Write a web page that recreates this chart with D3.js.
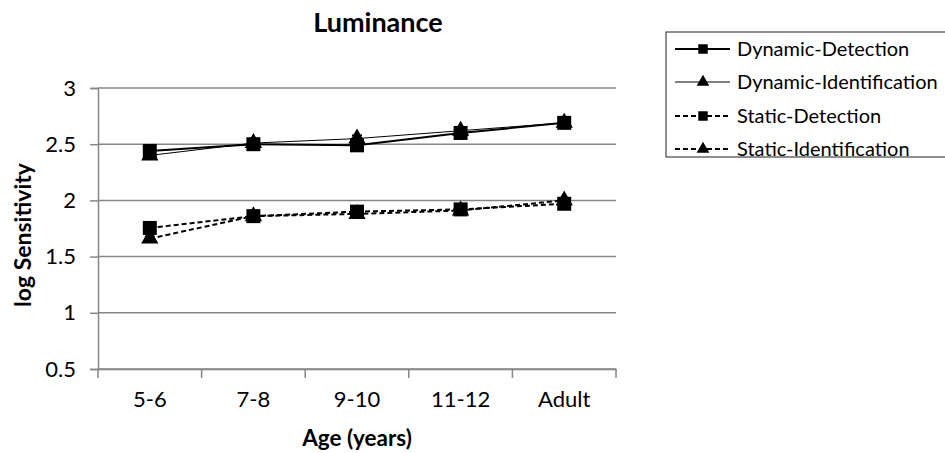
<!DOCTYPE html>
<html><head><meta charset="utf-8">
<script src="https://cdn.jsdelivr.net/npm/d3@7"></script>
<style>body{margin:0;background:#fff;} svg{display:block;}</style>
</head><body>
<svg id="c" width="945" height="453"></svg>
<script>
const categories = ["5-6","7-8","9-10","11-12","Adult"];
const dynamicDetection      = [2.44, 2.50, 2.49, 2.60, 2.69];
const dynamicIdentification = [2.40, 2.51, 2.55, 2.62, 2.69];
const staticDetection       = [1.755, 1.86, 1.90, 1.92, 1.97];
const staticIdentification  = [1.66, 1.86, 1.88, 1.91, 2.00];
const dynamicDetectionErr      = [0.02, 0.04, 0.02, 0.02, 0.01];
const dynamicIdentificationErr = [0.02, 0.03, 0.03, 0.02, 0.01];
const staticDetectionErr       = [0.02, 0.02, 0.02, 0.02, 0.02];
const staticIdentificationErr  = [0.02, 0.02, 0.02, 0.02, 0.02];
const yTicks = [0.5, 1, 1.5, 2, 2.5, 3];
const seriesNames = ["Dynamic-Detection","Dynamic-Identification","Static-Detection","Static-Identification"];

(function(){
const series = [
  {name: seriesNames[0], values: dynamicDetection, err: dynamicDetectionErr, marker: "square", dash: null, width: 2},
  {name: seriesNames[1], values: dynamicIdentification, err: dynamicIdentificationErr, marker: "triangle", dash: null, width: 1},
  {name: seriesNames[2], values: staticDetection, err: staticDetectionErr, marker: "square", dash: "5,3", width: 2},
  {name: seriesNames[3], values: staticIdentification, err: staticIdentificationErr, marker: "triangle", dash: "5,3", width: 2}
];

const svg = d3.select("#c");
const font = "Lato, 'Open Sans', sans-serif";
const mLeft = 98, mRight = 616, mTop = 88, mBottom = 369;

const x = d3.scaleBand().domain(categories).range([mLeft, mRight]);
const y = d3.scaleLinear().domain([0.5, 3]).range([mBottom, mTop]);
const gridColor = "#868686";

svg.append("g").selectAll("line").data(yTicks).join("line")
  .attr("x1", mLeft).attr("x2", mRight)
  .attr("y1", d => y(d)).attr("y2", d => y(d))
  .attr("stroke", gridColor).attr("stroke-width", 1.5);

const yAxis = svg.append("g").attr("transform", `translate(${mLeft},0)`)
  .call(d3.axisLeft(y).tickValues(yTicks).tickSize(8).tickPadding(14).tickFormat(d3.format("")));
yAxis.select(".domain").attr("stroke", gridColor).attr("stroke-width", 1.5);
yAxis.selectAll(".tick line").attr("stroke", gridColor).attr("stroke-width", 1.5);
yAxis.selectAll("text").attr("font-family", font).attr("font-size", 22).attr("fill", "#000");

const xAxis = svg.append("g").attr("transform", `translate(0,${mBottom})`)
  .call(d3.axisBottom(x).tickSize(0).tickPadding(22));
xAxis.select(".domain").attr("stroke", gridColor).attr("stroke-width", 1.5);
xAxis.selectAll("text").attr("font-family", font).attr("font-size", 22).attr("fill", "#000");
const edges = categories.map(c => x(c)).concat([mRight]);
xAxis.append("g").selectAll("line").data(edges).join("line")
  .attr("x1", d => d).attr("x2", d => d).attr("y1", 0).attr("y2", 9)
  .attr("stroke", gridColor).attr("stroke-width", 1.5);

const cx = c => x(c) + x.bandwidth()/2;

const line = d3.line().x((d,i) => cx(categories[i])).y(d => y(d));
series.forEach(s => {
  svg.append("path").datum(s.values).attr("d", line)
    .attr("fill", "none").attr("stroke", "#000")
    .attr("stroke-width", s.width)
    .attr("stroke-dasharray", s.dash);
  const g = svg.append("g");
  s.values.forEach((v, i) => {
    const xx = cx(categories[i]);
    g.append("line").attr("x1", xx).attr("x2", xx).attr("y1", y(v - s.err[i])).attr("y2", y(v + s.err[i]))
      .attr("stroke", "#000").attr("stroke-width", 1.5);
    [v - s.err[i], v + s.err[i]].forEach(e => {
      g.append("line").attr("x1", xx-5).attr("x2", xx+5).attr("y1", y(e)).attr("y2", y(e))
        .attr("stroke", "#000").attr("stroke-width", 1.5);
    });
  });
  const sym = s.marker === "square" ? d3.symbolSquare : d3.symbolTriangle;
  const size = s.marker === "square" ? 196 : 130;
  svg.append("g").selectAll("path").data(s.values).join("path")
    .attr("transform", (d,i) => `translate(${cx(categories[i])},${y(d)})`)
    .attr("d", d3.symbol().type(sym).size(size))
    .attr("fill", "#000");
});

svg.append("text").attr("x", 378).attr("y", 32).attr("text-anchor", "middle")
  .attr("font-family", font).attr("font-weight", "bold").attr("font-size", 27).text("Luminance");

svg.append("text").attr("x", 357).attr("y", 446).attr("text-anchor", "middle")
  .attr("font-family", font).attr("font-weight", "bold").attr("font-size", 22.5).text("Age (years)");
svg.append("text").attr("transform", `translate(31,235) rotate(-90)`).attr("text-anchor", "middle")
  .attr("font-family", font).attr("font-weight", "bold").attr("font-size", 23).text("log Sensitivity");

const lg = svg.append("g");
lg.append("rect").attr("x", 666).attr("y", 32).attr("width", 285).attr("height", 125)
  .attr("fill", "#fff").attr("stroke", "#444").attr("stroke-width", 1.2);
const rowY = [49, 82, 116, 149];
series.forEach((s, i) => {
  const yy = rowY[i];
  lg.append("line").attr("x1", 675).attr("x2", 730).attr("y1", yy).attr("y2", yy)
    .attr("stroke", "#000").attr("stroke-width", s.width).attr("stroke-dasharray", s.dash);
  const sym = s.marker === "square" ? d3.symbolSquare : d3.symbolTriangle;
  lg.append("path").attr("transform", `translate(703,${yy})`)
    .attr("d", d3.symbol().type(sym).size(s.marker === "square" ? 90 : 70)).attr("fill", "#000");
  lg.append("text").attr("x", 737).attr("y", yy).attr("dy", "0.35em")
    .attr("font-family", font).attr("font-size", 20).text(s.name);
});
})();
</script>
</body></html>
